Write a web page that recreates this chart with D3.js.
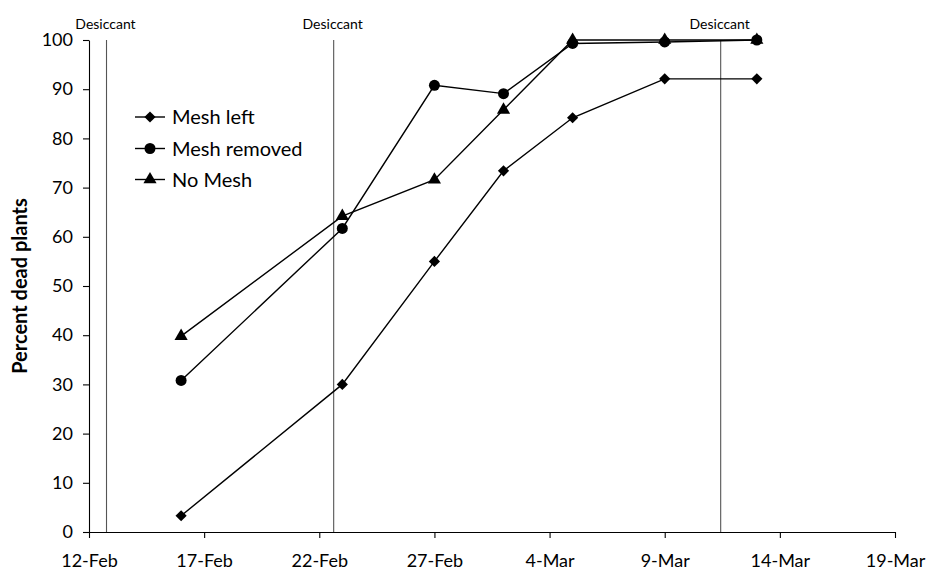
<!DOCTYPE html>
<html><head><meta charset="utf-8">
<script src="https://cdn.jsdelivr.net/npm/d3@7"></script>
<style>
html,body{margin:0;padding:0;background:#fff;}
svg{display:block;}
text{font-family:Lato,"Open Sans",sans-serif;fill:#000;}
</style></head>
<body>
<svg id="chart" width="927" height="572"></svg>
<script>
// ---- data ----
const sampleDates = ["2013-02-16","2013-02-23","2013-02-27","2013-03-02","2013-03-05","2013-03-09","2013-03-13"];
const meshLeft    = [3.3, 30.0, 55.0, 73.4, 84.2, 92.1, 92.1];
const meshRemoved = [30.8, 61.7, 90.8, 89.1, 99.3, 99.6, 100];
const noMesh      = [39.8, 64.2, 71.6, 85.8, 100, 100, 100];
const seriesNames = ["Mesh left", "Mesh removed", "No Mesh"];
const desiccantDates = ["2013-02-12T18:15", "2013-02-22T15:00", "2013-03-11T10:20"];
const desiccantLabel = "Desiccant";
const xTickLabels = ["12-Feb","17-Feb","22-Feb","27-Feb","4-Mar","9-Mar","14-Mar","19-Mar"];
const xTickDates  = ["2013-02-12","2013-02-17","2013-02-22","2013-02-27","2013-03-04","2013-03-09","2013-03-14","2013-03-19"];
const yTicks = [0,10,20,30,40,50,60,70,80,90,100];
const yTitle = "Percent dead plants";

(function(){
// ---- layout ----
const parse = s => new Date(s);
const svg = d3.select("#chart");
const mLeft = 89, mRight = 895, mTop = 40, mBottom = 532;

const x = d3.scaleTime().domain([parse(xTickDates[0]), parse(xTickDates[xTickDates.length-1])]).range([mLeft, mRight]);
const y = d3.scaleLinear().domain([0,100]).range([mBottom, mTop]);

// desiccant lines
desiccantDates.forEach(ds => {
  const xv = x(parse(ds));
  svg.append("line").attr("x1", xv).attr("x2", xv).attr("y1", y(100)).attr("y2", y(0))
    .attr("stroke", "#555").attr("stroke-width", 1.1);
  svg.append("text").attr("x", xv - 1).attr("y", 29).attr("text-anchor", "middle")
    .style("font-size", "14px").text(desiccantLabel);
});

// axes
const xAxis = d3.axisBottom(x).tickValues(xTickDates.map(parse))
  .tickFormat((d,i) => xTickLabels[i]).tickSize(6).tickSizeOuter(0).tickPadding(16);
const gx = svg.append("g").attr("transform", `translate(0,${mBottom})`).call(xAxis);
gx.selectAll("text").style("font-size", "18px");
gx.selectAll("line,path").attr("stroke", "#000").attr("stroke-width", 1.1);

const yAxis = d3.axisLeft(y).tickValues(yTicks).tickSize(6).tickSizeOuter(0).tickPadding(10);
const gy = svg.append("g").attr("transform", `translate(${mLeft},0)`).call(yAxis);
gy.selectAll("text").style("font-size", "18px");
gy.selectAll("line,path").attr("stroke", "#000").attr("stroke-width", 1.1);

svg.append("text").attr("transform", `translate(27,286) rotate(-90)`)
  .attr("text-anchor", "middle").style("font-size", "20px").style("font-weight", "bold").text(yTitle);

// series
const seriesVals = [meshLeft, meshRemoved, noMesh];
const symbols = [d3.symbolDiamond2, d3.symbolCircle, d3.symbolTriangle];
const symSizes = [80, 95, 75];
const line = d3.line().x(d => x(d[0])).y(d => y(d[1]));
const dates = sampleDates.map(parse);

seriesVals.forEach((vals, si) => {
  const pts = dates.map((d,i) => [d, vals[i]]);
  svg.append("path").datum(pts).attr("d", line).attr("fill", "none")
    .attr("stroke", "#000").attr("stroke-width", 1.4);
});
seriesVals.forEach((vals, si) => {
  const sym = d3.symbol().type(symbols[si]).size(symSizes[si]);
  svg.append("g").selectAll("path").data(dates.map((d,i) => [d, vals[i]])).join("path")
    .attr("transform", d => `translate(${x(d[0])},${y(d[1])})`)
    .attr("d", sym).attr("fill", "#000");
});

// legend
const legY = [117, 148.5, 179.5];
seriesNames.forEach((name, si) => {
  const g = svg.append("g").attr("transform", `translate(135,${legY[si]})`);
  g.append("line").attr("x1", 0).attr("x2", 30).attr("stroke", "#000").attr("stroke-width", 1.4);
  g.append("path").attr("transform", "translate(15,0)").attr("d", d3.symbol().type(symbols[si]).size(symSizes[si])()).attr("fill", "#000");
  g.append("text").attr("x", 37).attr("dy", "0.35em").style("font-size", "20px").text(name);
});
})();
</script>
</body></html>
